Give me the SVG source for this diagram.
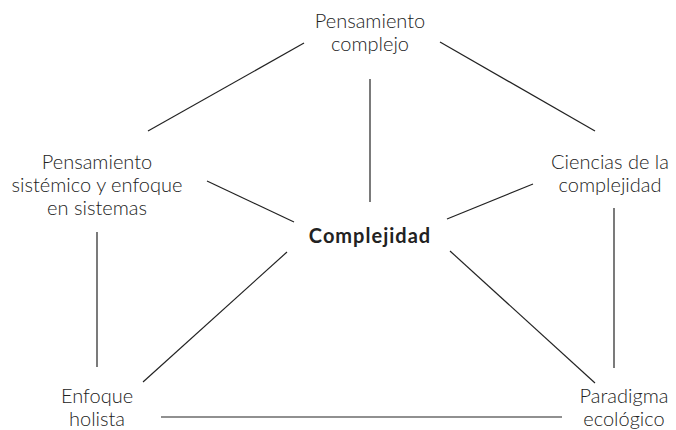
<svg xmlns="http://www.w3.org/2000/svg" width="676" height="430" viewBox="0 0 676 430">
<style>
.t{font-family:Lato,"Noto Sans",sans-serif;font-size:20px;font-weight:300;fill:#222;text-anchor:middle}
.b{font-weight:bold;letter-spacing:1px}
.c line{stroke:#222;stroke-width:1.2}
</style>
<rect width="676" height="430" fill="#fff"/>
<g class="c" id="connectors">
<line x1="304" y1="43" x2="148" y2="131"/>
<line x1="440" y1="42" x2="595" y2="131"/>
<line x1="370" y1="79" x2="370" y2="202"/>
<line x1="207" y1="181" x2="294" y2="222"/>
<line x1="533" y1="184" x2="447" y2="219"/>
<line x1="614" y1="208" x2="614" y2="368"/>
<line x1="97" y1="232" x2="97" y2="367"/>
<line x1="287" y1="252" x2="143" y2="382"/>
<line x1="450" y1="251" x2="595" y2="383"/>
<line x1="161" y1="417" x2="562" y2="417"/>
</g>
<g id="pensamiento-complejo"><text class="t" x="370" y="28">Pensamiento</text><text class="t" x="370" y="51">complejo</text></g>
<g id="pensamiento-sistemico"><text class="t" x="97" y="169">Pensamiento</text><text class="t" x="97" y="192">sistémico y enfoque</text><text class="t" x="97" y="215">en sistemas</text></g>
<g id="ciencias"><text class="t" x="610" y="169">Ciencias de la</text><text class="t" x="610" y="192">complejidad</text></g>
<g id="complejidad"><text class="t b" x="370" y="243">Complejidad</text></g>
<g id="enfoque-holista"><text class="t" x="97" y="403">Enfoque</text><text class="t" x="97" y="426">holista</text></g>
<g id="paradigma"><text class="t" x="624" y="403">Paradigma</text><text class="t" x="624" y="426">ecológico</text></g>
</svg>
